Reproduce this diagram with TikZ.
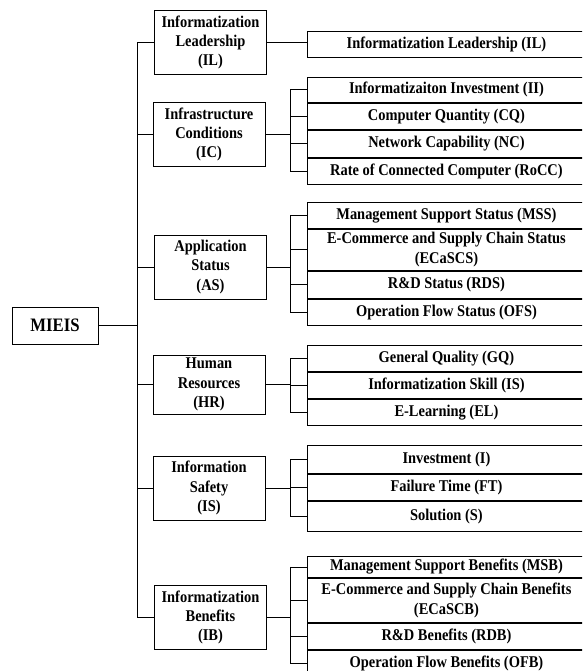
\documentclass[tikz,border=0pt]{standalone}
\usepackage{fontspec}
\setmainfont[FakeStretch=0.88]{Liberation Serif}
\usetikzlibrary{positioning}

\begin{document}
\begin{tikzpicture}[x=1pt, y=-1pt, line width=0.9pt,
    root/.style={draw, font=\fontsize{19}{22}\selectfont\bfseries,
        minimum width=86pt, minimum height=37pt, inner sep=0pt},
    dim/.style={draw, font=\fontsize{16.4}{19.3}\selectfont\bfseries, align=flush center,
        text width=112pt, minimum height=64pt, inner sep=0pt},
    leaf/.style={draw, font=\fontsize{16.4}{20}\selectfont\bfseries, align=flush center,
        text width=278pt, inner sep=0pt, minimum height=#1},
    leaf/.default=26pt]
    \useasboundingbox (0,0) rectangle (582,671);
    \clip (0,0) rectangle (582,671);

    % root and the six dimensions
    \node[root] (mieis) at (55,325.5) {MIEIS};
    \node[dim] (ilm) at (210.5,42.5) {Informatization\\Leadership\\(IL)};
    \node[dim] (icm) at (209,134.5)  {Infrastructure\\Conditions\\(IC)};
    \node[dim] (asm) at (210.5,267)  {Application\\Status\\(AS)};
    \node[dim, minimum height=59pt] (hrm) at (209,384.5) {Human\\Resources\\(HR)};
    \node[dim] (ism) at (209,488)    {Information\\Safety\\(IS)};
    \node[dim] (ibm) at (210.5,617.5) {Informatization\\Benefits\\(IB)};

    % indicators, stacked rows
    \node[leaf, anchor=north west] (il1) at (307,31) {Informatization Leadership (IL)};

    \node[leaf=25pt, anchor=north west] (ic1) at (307,77) {Informatizaiton Investment (II)};
    \node[leaf, below=0pt of ic1] (ic2) {Computer Quantity (CQ)};
    \node[leaf=27pt, below=0pt of ic2] (ic3) {Network Capability (NC)};
    \node[leaf, below=0pt of ic3] (ic4) {Rate of Connected Computer (RoCC)};

    \node[leaf, anchor=north west] (as1) at (307,202) {Management Support Status (MSS)};
    \node[leaf=41pt, below=0pt of as1] (as2) {E-Commerce and Supply Chain Status\\(ECaSCS)};
    \node[leaf=27pt, below=0pt of as2] (as3) {R\&D Status (RDS)};
    \node[leaf, below=0pt of as3] (as4) {Operation Flow Status (OFS)};

    \node[leaf, anchor=north west] (hr1) at (307,345) {General Quality (GQ)};
    \node[leaf, below=0pt of hr1] (hr2) {Informatization Skill (IS)};
    \node[leaf, below=0pt of hr2] (hr3) {E-Learning (EL)};

    \node[leaf=28pt, anchor=north west] (is1) at (307,445) {Investment (I)};
    \node[leaf, below=0pt of is1] (is2) {Failure Time (FT)};
    \node[leaf=30pt, below=0pt of is2] (is3) {Solution (S)};

    \node[leaf=21pt, anchor=north west] (ib1) at (307,556) {Management Support Benefits (MSB)};
    \node[leaf=44pt, below=0pt of ib1] (ib2) {E-Commerce and Supply Chain Benefits\\(ECaSCB)};
    \node[leaf, below=0pt of ib2] (ib3) {R\&D Benefits (RDB)};
    \node[leaf, below=0pt of ib3] (ib4) {Operation Flow Benefits (OFB)};

    % trunk on the left
    \coordinate (trunk) at (137,0);
    \coordinate (brace) at (290,0);
    \draw (mieis.east) -- (mieis.east -| trunk);
    \draw (ilm.west -| trunk) -- (ibm.west -| trunk);
    \foreach \d in {ilm,icm,asm,hrm,ism,ibm}
        \draw (\d.west -| trunk) -- (\d.west);

    % brackets on the right
    \draw (ilm.east) -- (ilm.east -| il1.west);
    \foreach \d/\a/\b in {icm/ic1/ic4, asm/as1/as4, hrm/hr1/hr3, ism/is1/is3, ibm/ib1/ib4} {
        \draw (\d.east) -- (\d.east -| brace);
        \draw (\a.west -| brace) -- (\b.west -| brace);
    }
    \foreach \r in {ic1,ic2,ic3,ic4,as1,as2,as3,as4,hr1,hr2,hr3,is1,is2,is3,ib1,ib2,ib3,ib4}
        \draw (\r.west -| brace) -- (\r.west);
\end{tikzpicture}
\end{document}
